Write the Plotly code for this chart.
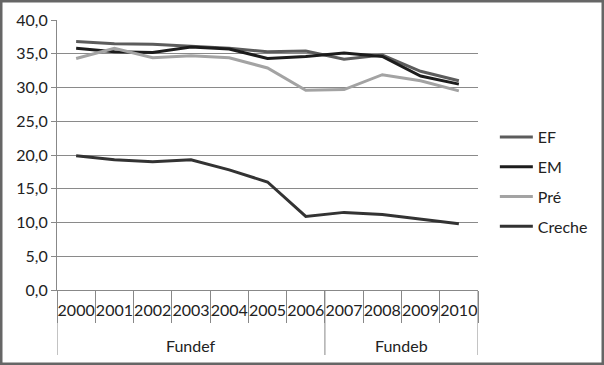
import plotly.graph_objects as go

years = ["2000","2001","2002","2003","2004","2005","2006","2007","2008","2009","2010"]
groups = ["Fundef"]*7 + ["Fundeb"]*4
ef = [36.8, 36.5, 36.4, 36.1, 35.8, 35.3, 35.4, 34.2, 34.8, 32.4, 31.0]
em = [35.8, 35.3, 35.2, 36.0, 35.7, 34.3, 34.6, 35.1, 34.6, 31.7, 30.5]
pre = [34.3, 35.8, 34.4, 34.7, 34.4, 32.9, 29.6, 29.7, 31.9, 31.0, 29.5]
creche = [19.9, 19.3, 19.0, 19.3, 17.8, 16.0, 10.9, 11.5, 11.2, 10.5, 9.8]

series = [("EF", ef, "#5c5c5c"), ("EM", em, "#1c1c1c"), ("Pré", pre, "#a3a3a3"), ("Creche", creche, "#333333")]

fig = go.Figure()
for name, vals, col in series:
    fig.add_trace(go.Scatter(x=years, y=vals, name=name, mode="lines",
                             legendgroup=name,
                             line=dict(color=col, width=3)))

# group spans derived from the groups list
spans = []
start = 0
for i in range(1, len(groups) + 1):
    if i == len(groups) or groups[i] != groups[start]:
        spans.append((groups[start], start, i - 1))
        start = i

PH = 270  # plot height in px
shapes = []
annotations = []
bounds = sorted(set([s - 0.5 for _, s, _ in spans] + [e + 0.5 for _, _, e in spans]))
for b in bounds:
    shapes.append(dict(type="line", xref="x", yref="paper", x0=b, x1=b,
                       y0=0, y1=-65 / PH, line=dict(color="#888", width=1)))
for name, s, e in spans:
    annotations.append(dict(x=(s + e) / 2, y=-55 / PH, xref="x", yref="paper",
                            text=name, showarrow=False, yanchor="middle",
                            font=dict(size=16)))
shapes.append(dict(type="rect", xref="paper", yref="paper",
                   x0=-56 / 421, x1=1 + 125 / 421, y0=-74 / PH, y1=1 + 19 / PH,
                   line=dict(color="#666", width=3)))

font = "Lato, 'Open Sans', sans-serif"
fig.update_layout(
    width=604, height=365,
    margin=dict(l=57, r=126, t=20, b=75, autoexpand=False),
    paper_bgcolor="white", plot_bgcolor="white",
    separators=",.",
    font=dict(family=font, size=16, color="#222"),
    showlegend=True,
    legend=dict(x=1.040, y=0.40, yanchor="middle", xanchor="left",
                font=dict(size=16), itemwidth=33, tracegroupgap=6,
                bgcolor="rgba(0,0,0,0)"),
    xaxis=dict(type="category", range=[-0.5, 10.5], autorange=False,
               showline=True, linecolor="#888", linewidth=1,
               ticks="outside", ticklen=32, tickcolor="#888", tickson="boundaries",
               ticklabelstandoff=6,
               showgrid=False, tickangle=0, tickfont=dict(size=16)),
    yaxis=dict(range=[0, 40], dtick=5, tickformat=".1f", showgrid=True,
               gridcolor="#8a8a8a", gridwidth=1, showline=True, linecolor="#888",
               ticks="outside", ticklen=5, tickcolor="#888", zeroline=False,
               tickfont=dict(size=16)),
    shapes=shapes,
    annotations=annotations,
)
fig.write_html("out.html", config={"displayModeBar": False},
               post_script="document.body.style.margin='0';")
